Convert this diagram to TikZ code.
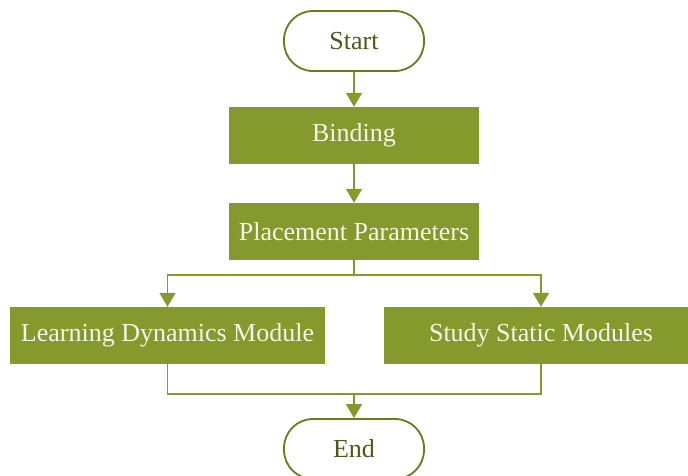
\documentclass[tikz,border=0pt]{standalone}
\usepackage{fontspec}
\setmainfont{Liberation Serif}
\usetikzlibrary{arrows.meta}
\definecolor{olivefill}{RGB}{134,153,45}
\definecolor{olivedark}{RGB}{107,122,30}
\definecolor{olivetext}{RGB}{78,88,24}
\definecolor{boxtext}{RGB}{245,245,232}
\tikzset{
  term/.style={draw=olivedark, line width=1.8pt, fill=white, rounded corners=29pt,
    minimum width=140pt, minimum height=60pt, inner sep=0pt, text=olivetext,
    font=\fontsize{26}{30}\selectfont},
  procbox/.style={fill=olivefill, inner sep=0pt, text=boxtext,
    minimum height=57pt, font=\fontsize{26}{30}\selectfont},
  arr/.style={draw=olivefill, line width=1.8pt, -{Triangle[width=16pt,length=14pt]}},
  ln/.style={draw=olivefill, line width=1.8pt}
}
\begin{document}
\begin{tikzpicture}[x=1pt,y=-1pt]
\clip (0,0) rectangle (688,475);
\fill[white] (0,0) rectangle (688,475);
\node[term] (start) at (354,41) {Start};
\node[procbox, minimum width=250pt] (bind) at (354,135.5) {Binding};
\node[procbox, minimum width=250pt] (pp) at (354,231.5) {Placement Parameters};
\node[procbox, minimum width=315pt] (lm) at (167.5,335.5) {Learning Dynamics Module};
\node[procbox, minimum width=314pt] (rm) at (541,335.5) {Study Static Modules};
\node[term] (end) at (354,449) {End};
\coordinate (fork) at (354,275);
\coordinate (join) at (354,394);
\draw[arr] (start) -- (bind);
\draw[arr] (bind) -- (pp);
\draw[ln] (pp.south) -- (fork);
\draw[arr] (fork) -| (lm.north);
\draw[arr] (fork) -| (rm.north);
\draw[ln] (lm.south) |- (join);
\draw[ln] (rm.south) |- (join);
\draw[arr] (join) -- (end.north);
\end{tikzpicture}
\end{document}
